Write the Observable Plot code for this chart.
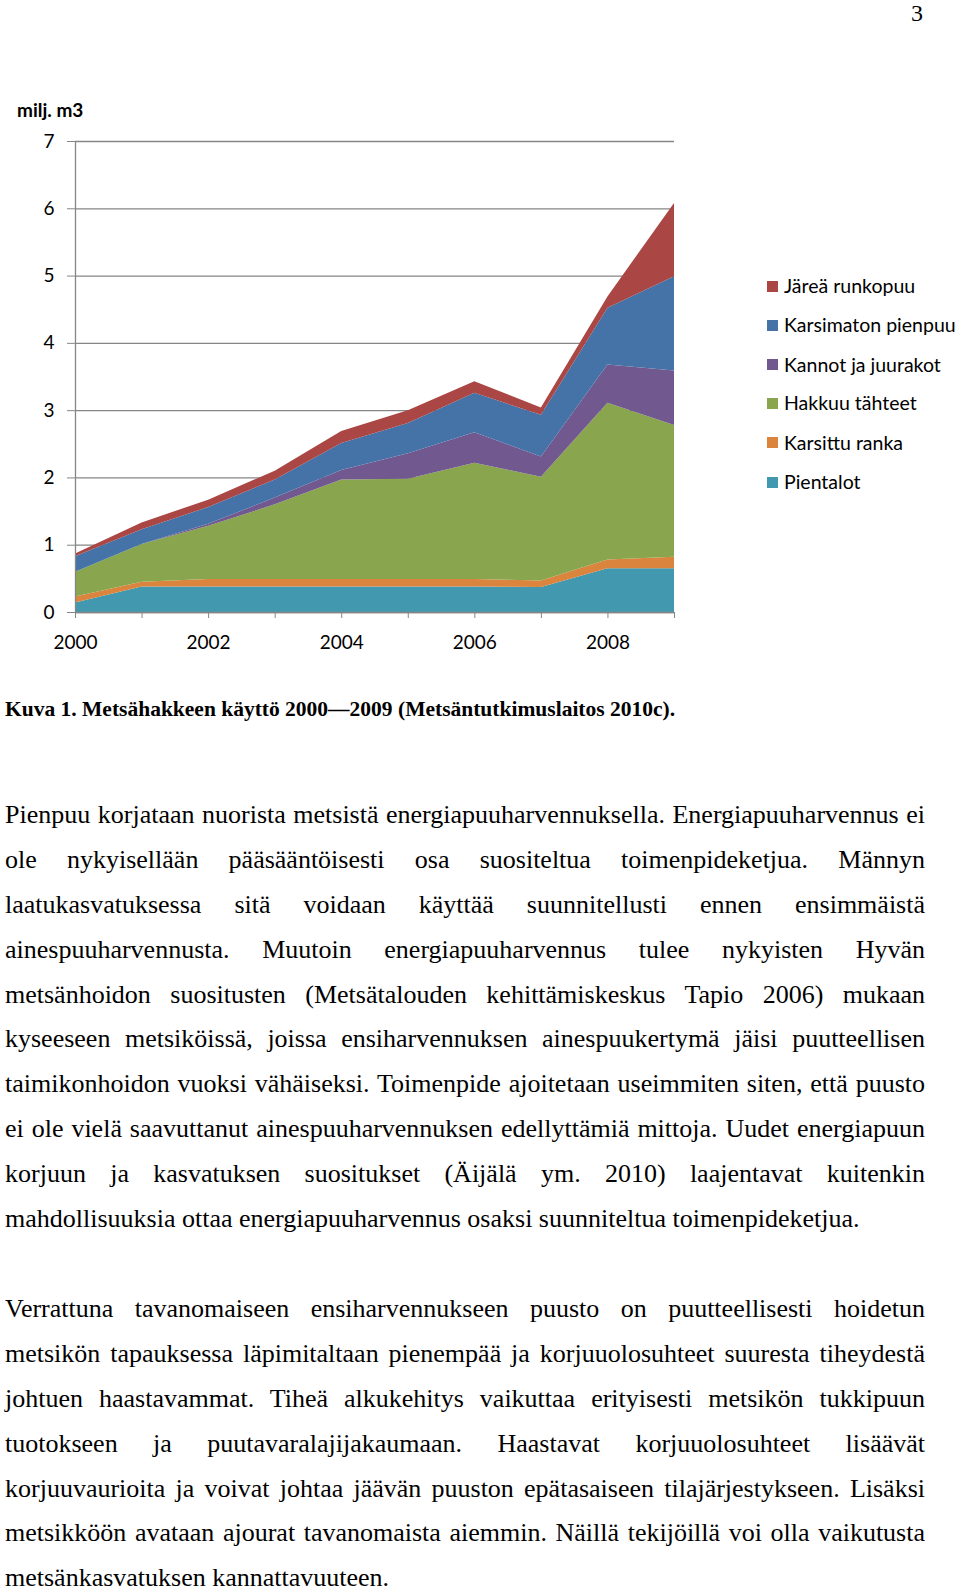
<!DOCTYPE html>
<html>
<head>
<meta charset="utf-8">
<script src="https://cdn.jsdelivr.net/npm/d3@7"></script>
<script src="https://cdn.jsdelivr.net/npm/@observablehq/plot@0.6"></script>
<style>
  html, body { margin: 0; padding: 0; background: #fff; }
  #page { position: relative; width: 960px; height: 1588px; overflow: hidden; background: #fff; }
  .abs { position: absolute; }
  .serif { font-family: "Liberation Serif", "Times New Roman", serif; color: #000; }
  .sans { font-family: Lato, "Open Sans", sans-serif; color: #000; }
  .line { white-space: nowrap; height: 44.9px; line-height: 44.9px; }
  .line span { display: inline-block; white-space: nowrap; }
  .legend-row { position: absolute; left: 767px; font-size: 19.5px; line-height: 20px; white-space: nowrap; display: flex; align-items: center; }
  .legend-row span.sw { display: inline-block; width: 11px; height: 11px; margin-right: 6px; }
</style>
</head>
<body>
<div id="page">
  <div class="abs serif" style="left:911px; top:0px; font-size:24px; line-height:26px;">3</div>
  <div class="abs sans" style="left:17px; top:98px; font-size:19px; font-weight:bold;">milj. m3</div>
  <div id="chart" class="abs" style="left:0; top:90px;"></div>
  <div id="legend"></div>
  <div class="abs serif" style="left:5px; top:697px; font-size:21.5px; font-weight:bold; white-space:nowrap;">Kuva 1. Metsähakkeen käyttö 2000—2009 (Metsäntutkimuslaitos 2010c).</div>
  <div id="p1" class="abs serif" style="left:5px; top:793px; font-size:26px;"></div>
  <div id="p2" class="abs serif" style="left:5px; top:1287px; font-size:26px;"></div>
</div>
<script>
// ---- Data ----
const years = [2000, 2001, 2002, 2003, 2004, 2005, 2006, 2007, 2008, 2009];
const seriesNames = ["Pientalot", "Karsittu ranka", "Hakkuu tähteet", "Kannot ja juurakot", "Karsimaton pienpuu", "Järeä runkopuu"];
const pientalot  = [0.14, 0.38, 0.38, 0.38, 0.38, 0.38, 0.38, 0.37, 0.65, 0.65];
const karsittu   = [0.09, 0.07, 0.11, 0.11, 0.11, 0.11, 0.11, 0.10, 0.13, 0.17];
const hakkuu     = [0.37, 0.56, 0.79, 1.11, 1.48, 1.49, 1.73, 1.54, 2.33, 1.96];
const kannot     = [0.00, 0.00, 0.03, 0.10, 0.14, 0.38, 0.45, 0.30, 0.57, 0.81];
const karsimaton = [0.23, 0.22, 0.25, 0.27, 0.40, 0.45, 0.59, 0.62, 0.84, 1.40];
const jarea      = [0.04, 0.10, 0.11, 0.13, 0.18, 0.19, 0.17, 0.11, 0.17, 1.09];
const seriesColors = ["#4198AF", "#DB843D", "#89A54E", "#71588F", "#4572A7", "#AA4643"];
const yTicks = [0, 1, 2, 3, 4, 5, 6, 7];
const xLabelTicks = [2000, 2002, 2004, 2006, 2008];
const legendOrder = ["Järeä runkopuu", "Karsimaton pienpuu", "Kannot ja juurakot", "Hakkuu tähteet", "Karsittu ranka", "Pientalot"];

const valuesBySeries = [pientalot, karsittu, hakkuu, kannot, karsimaton, jarea];
const rows = [];
seriesNames.forEach((s, i) => years.forEach((y, j) => rows.push({year: y, series: s, value: valuesBySeries[i][j]})));

const grid = "#868686";
const chart = Plot.plot({
  width: 700,
  height: 562,
  marginLeft: 75,
  marginRight: 26,
  marginTop: 51,
  marginBottom: 40,
  style: {fontFamily: "Lato, 'Open Sans', sans-serif", fontSize: "19px", color: "#000", background: "transparent"},
  x: {domain: [2000, 2009]},
  y: {domain: [0, 7]},
  color: {domain: seriesNames, range: seriesColors},
  marks: [
    Plot.ruleY(yTicks, {stroke: grid, strokeWidth: 1.3}),
    Plot.areaY(rows, {x: "year", y: "value", fill: "series", z: "series", order: seriesNames}),
    Plot.ruleX([2000], {stroke: grid, strokeWidth: 1.3}),
    Plot.ruleY([0], {stroke: grid, strokeWidth: 1.3}),
    Plot.axisY({ticks: yTicks, tickSize: 8, tickPadding: 13, stroke: grid, tickFormat: d => d, fill: "#000", label: null}),
    Plot.axisX({ticks: years, tickSize: 6, stroke: grid, tickFormat: () => "", label: null}),
    Plot.axisX({ticks: xLabelTicks, tickSize: 0, tickPadding: 23, tickFormat: d => String(d), fill: "#000", label: null})
  ]
});
document.getElementById("chart").appendChild(chart);

// Legend
const legendTops = [286, 325, 364.5, 403, 442.5, 482];
const legend = document.getElementById("legend");
legendOrder.forEach((name, i) => {
  const row = document.createElement("div");
  row.className = "legend-row sans";
  row.style.top = (legendTops[i] - 10) + "px";
  const sw = document.createElement("span");
  sw.className = "sw";
  sw.style.background = seriesColors[seriesNames.indexOf(name)];
  row.appendChild(sw);
  row.appendChild(document.createTextNode(name));
  legend.appendChild(row);
});

// Body text
const para1 = [
  "Pienpuu korjataan nuorista metsistä energiapuuharvennuksella. Energiapuuharvennus ei",
  "ole nykyisellään pääsääntöisesti osa suositeltua toimenpideketjua. Männyn",
  "laatukasvatuksessa sitä voidaan käyttää suunnitellusti ennen ensimmäistä",
  "ainespuuharvennusta. Muutoin energiapuuharvennus tulee nykyisten Hyvän",
  "metsänhoidon suositusten (Metsätalouden kehittämiskeskus Tapio 2006) mukaan",
  "kyseeseen metsiköissä, joissa ensiharvennuksen ainespuukertymä jäisi puutteellisen",
  "taimikonhoidon vuoksi vähäiseksi. Toimenpide ajoitetaan useimmiten siten, että puusto",
  "ei ole vielä saavuttanut ainespuuharvennuksen edellyttämiä mittoja. Uudet energiapuun",
  "korjuun ja kasvatuksen suositukset (Äijälä ym. 2010) laajentavat kuitenkin",
  "mahdollisuuksia ottaa energiapuuharvennus osaksi suunniteltua toimenpideketjua."
];
const para2 = [
  "Verrattuna tavanomaiseen ensiharvennukseen puusto on puutteellisesti hoidetun",
  "metsikön tapauksessa läpimitaltaan pienempää ja korjuuolosuhteet suuresta tiheydestä",
  "johtuen haastavammat. Tiheä alkukehitys vaikuttaa erityisesti metsikön tukkipuun",
  "tuotokseen ja puutavaralajijakaumaan. Haastavat korjuuolosuhteet lisäävät",
  "korjuuvaurioita ja voivat johtaa jäävän puuston epätasaiseen tilajärjestykseen. Lisäksi",
  "metsikköön avataan ajourat tavanomaista aiemmin. Näillä tekijöillä voi olla vaikutusta",
  "metsänkasvatuksen kannattavuuteen."
];
const TEXT_WIDTH = 920;
function fill(id, lines) {
  const el = document.getElementById(id);
  lines.forEach((t, i) => {
    const d = document.createElement("div");
    d.className = "line";
    const s = document.createElement("span");
    s.textContent = t;
    d.appendChild(s);
    el.appendChild(d);
    if (i < lines.length - 1) {
      const w = s.getBoundingClientRect().width;
      const gaps = (t.match(/ /g) || []).length;
      if (gaps > 0) s.style.wordSpacing = ((TEXT_WIDTH - w) / gaps) + "px";
    }
  });
}
fill("p1", para1);
fill("p2", para2);
</script>
</body>
</html>
